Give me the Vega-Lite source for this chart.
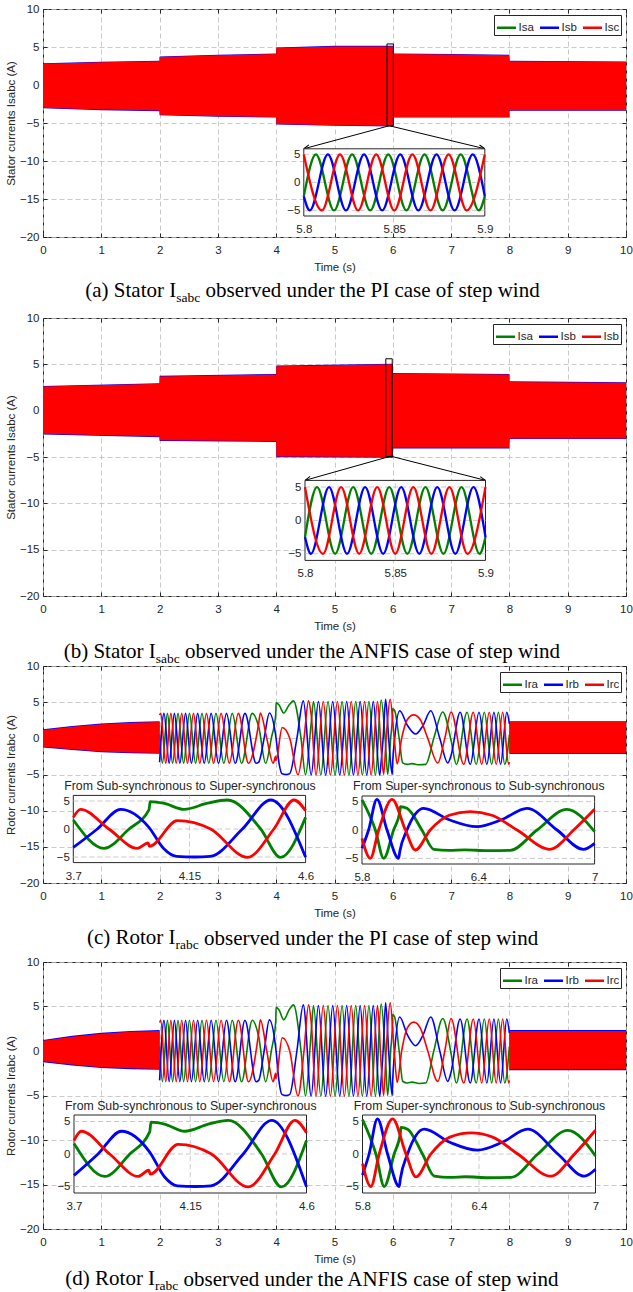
{
"$schema": "https://vega.github.io/schema/vega-lite/v6.json",
"background": "white",
"padding": {"left": 5, "top": 2, "right": 0, "bottom": 0},
"spacing": -6,
"resolve": {"scale": {"color": "independent"}, "legend": {"color": "independent"}},
"config": {
 "view": {"stroke": "#262626", "strokeWidth": 1},
 "axis": {"labelFont": "Liberation Sans", "labelFontSize": 11.5, "labelColor": "#262626", "titleFont": "Liberation Sans", "titleFontSize": 11.5, "titleFontWeight": "normal", "titleColor": "#262626", "domain": false, "gridColor": "#bdbdbd", "gridDash": [5, 3], "gridWidth": 0.8, "tickColor": "#262626", "labelFlush": false},
 "legend": {"labelFont": "Liberation Sans", "labelFontSize": 11.5, "labelColor": "#262626", "title": null, "orient": "top-right", "direction": "horizontal", "symbolType": "stroke", "symbolSize": 361, "symbolStrokeWidth": 2.5, "padding": 1.5, "strokeColor": "#262626", "fillColor": "white", "offset": 5.5, "columnPadding": 0, "labelOffset": 1},
 "title": {"font": "Liberation Serif", "fontWeight": "normal", "color": "#000000", "orient": "bottom", "anchor": "start", "frame": "group"}
},
"datasets": {
 "bandA": [
  {"s":"Isb","t":0,"hi":2.87,"lo":-3.07},{"s":"Isb","t":1,"hi":3.05,"lo":-3.31},{"s":"Isb","t":1.999,"hi":3.18,"lo":-3.44},{"s":"Isb","t":2.001,"hi":3.75,"lo":-3.97},{"s":"Isb","t":3,"hi":3.97,"lo":-4.18},{"s":"Isb","t":3.999,"hi":4.14,"lo":-4.27},{"s":"Isb","t":4.001,"hi":4.93,"lo":-5.19},{"s":"Isb","t":5,"hi":5.15,"lo":-5.37},{"s":"Isb","t":5.999,"hi":5.15,"lo":-5.45},{"s":"Isb","t":6.001,"hi":4.14,"lo":-4.27},{"s":"Isb","t":7,"hi":4.07,"lo":-4.27},{"s":"Isb","t":7.999,"hi":3.97,"lo":-4.27},{"s":"Isb","t":8.001,"hi":3.18,"lo":-3.4},{"s":"Isb","t":10,"hi":3.09,"lo":-3.4},
  {"s":"Isc","t":0,"hi":2.8,"lo":-3.0},{"s":"Isc","t":1,"hi":2.98,"lo":-3.24},{"s":"Isc","t":1.999,"hi":3.11,"lo":-3.37},{"s":"Isc","t":2.001,"hi":3.68,"lo":-3.9},{"s":"Isc","t":3,"hi":3.9,"lo":-4.11},{"s":"Isc","t":3.999,"hi":4.07,"lo":-4.2},{"s":"Isc","t":4.001,"hi":4.86,"lo":-5.12},{"s":"Isc","t":5,"hi":5.08,"lo":-5.3},{"s":"Isc","t":5.999,"hi":5.08,"lo":-5.38},{"s":"Isc","t":6.001,"hi":4.07,"lo":-4.2},{"s":"Isc","t":7,"hi":4.0,"lo":-4.2},{"s":"Isc","t":7.999,"hi":3.9,"lo":-4.2},{"s":"Isc","t":8.001,"hi":3.11,"lo":-3.33},{"s":"Isc","t":10,"hi":3.02,"lo":-3.33}
 ],
 "bandB": [
  {"s":"Isb","t":0,"hi":2.67,"lo":-2.57},{"s":"Isb","t":1.999,"hi":2.97,"lo":-2.87},{"s":"Isb","t":2.001,"hi":3.77,"lo":-3.27},{"s":"Isb","t":3.999,"hi":3.97,"lo":-3.37},{"s":"Isb","t":4.001,"hi":4.87,"lo":-5.02},{"s":"Isb","t":5.999,"hi":5.07,"lo":-5.07},{"s":"Isb","t":6.001,"hi":4.07,"lo":-4.07},{"s":"Isb","t":7.999,"hi":3.97,"lo":-4.07},{"s":"Isb","t":8.001,"hi":3.17,"lo":-3.07},{"s":"Isb","t":10,"hi":3.07,"lo":-3.07},
  {"s":"Isc","t":0,"hi":2.6,"lo":-2.5},{"s":"Isc","t":1.999,"hi":2.9,"lo":-2.8},{"s":"Isc","t":2.001,"hi":3.7,"lo":-3.2},{"s":"Isc","t":3.999,"hi":3.9,"lo":-3.3},{"s":"Isc","t":4.001,"hi":4.8,"lo":-4.95},{"s":"Isc","t":5.999,"hi":5.0,"lo":-5.0},{"s":"Isc","t":6.001,"hi":4.0,"lo":-4.0},{"s":"Isc","t":7.999,"hi":3.9,"lo":-4.0},{"s":"Isc","t":8.001,"hi":3.1,"lo":-3.0},{"s":"Isc","t":10,"hi":3.0,"lo":-3.0}
 ],
 "annA": [
  {"k":"box","t1":5.9,"t2":6.01,"v1":-5.35,"v2":5.4},
  {"k":"arrow","t1":5.94,"v1":-5.36,"t2":4.473,"v2":-8.39},
  {"k":"arrow","t1":5.94,"v1":-5.36,"t2":7.578,"v2":-8.39}
 ],
 "annB": [
  {"k":"box","t1":5.88,"t2":5.99,"v1":-4.95,"v2":5.6},
  {"k":"arrow","t1":5.964,"v1":-4.91,"t2":4.494,"v2":-7.52},
  {"k":"arrow","t1":5.964,"v1":-4.91,"t2":7.59,"v2":-7.52}
 ],
 "sIns": [
  {"s":"Isa","t":5.8,"v":-2.5},{"s":"Isa","t":5.8067,"v":5},{"s":"Isa","t":5.8167,"v":-5},{"s":"Isa","t":5.8267,"v":5},{"s":"Isa","t":5.8367,"v":-5},{"s":"Isa","t":5.8467,"v":5},{"s":"Isa","t":5.8567,"v":-5},{"s":"Isa","t":5.8667,"v":5},{"s":"Isa","t":5.8767,"v":-5},{"s":"Isa","t":5.8867,"v":5},{"s":"Isa","t":5.8967,"v":-5},{"s":"Isa","t":5.9,"v":-2.5},
  {"s":"Isb","t":5.8,"v":-2.5},{"s":"Isb","t":5.8033,"v":-5},{"s":"Isb","t":5.8133,"v":5},{"s":"Isb","t":5.8233,"v":-5},{"s":"Isb","t":5.8333,"v":5},{"s":"Isb","t":5.8433,"v":-5},{"s":"Isb","t":5.8533,"v":5},{"s":"Isb","t":5.8633,"v":-5},{"s":"Isb","t":5.8733,"v":5},{"s":"Isb","t":5.8833,"v":-5},{"s":"Isb","t":5.8933,"v":5},{"s":"Isb","t":5.9,"v":-2.5},
  {"s":"Isc","t":5.8,"v":5},{"s":"Isc","t":5.81,"v":-5},{"s":"Isc","t":5.82,"v":5},{"s":"Isc","t":5.83,"v":-5},{"s":"Isc","t":5.84,"v":5},{"s":"Isc","t":5.85,"v":-5},{"s":"Isc","t":5.86,"v":5},{"s":"Isc","t":5.87,"v":-5},{"s":"Isc","t":5.88,"v":5},{"s":"Isc","t":5.89,"v":-5},{"s":"Isc","t":5.9,"v":5}
 ],
 "cband": [
  {"s":"Irb","g":"L","t":0,"hi":1.25,"lo":-1.26},{"s":"Irb","g":"L","t":0.5,"hi":1.7,"lo":-1.62},{"s":"Irb","g":"L","t":1,"hi":2.05,"lo":-1.92},{"s":"Irb","g":"L","t":1.5,"hi":2.25,"lo":-2.05},{"s":"Irb","g":"L","t":2,"hi":2.35,"lo":-2.12},
  {"s":"Irb","g":"R","t":8,"hi":2.35,"lo":-2.15},{"s":"Irb","g":"R","t":10,"hi":2.35,"lo":-2.15},
  {"s":"Irc","g":"L","t":0,"hi":1.15,"lo":-1.16},{"s":"Irc","g":"L","t":0.5,"hi":1.6,"lo":-1.52},{"s":"Irc","g":"L","t":1,"hi":1.95,"lo":-1.82},{"s":"Irc","g":"L","t":1.5,"hi":2.15,"lo":-1.95},{"s":"Irc","g":"L","t":2,"hi":2.25,"lo":-2.02},
  {"s":"Irc","g":"R","t":8,"hi":2.25,"lo":-2.05},{"s":"Irc","g":"R","t":10,"hi":2.25,"lo":-2.05}
 ],
 "rL": [
  {"s":"Ira","t":2,"v":0.5},{"s":"Ira","t":2.048,"v":-3.45},{"s":"Ira","t":2.134,"v":3.45},{"s":"Ira","t":2.223,"v":-3.45},{"s":"Ira","t":2.316,"v":3.45},{"s":"Ira","t":2.412,"v":-3.45},{"s":"Ira","t":2.512,"v":3.45},{"s":"Ira","t":2.617,"v":-3.45},{"s":"Ira","t":2.727,"v":3.45},{"s":"Ira","t":2.843,"v":-3.45},{"s":"Ira","t":2.967,"v":3.45},{"s":"Ira","t":3.101,"v":-3.45},{"s":"Ira","t":3.246,"v":3.45},{"s":"Ira","t":3.406,"v":-3.45},{"s":"Ira","t":3.589,"v":3.45},
  {"s":"Ira","t":3.7,"v":1.6},{"s":"Ira","t":3.819,"v":-3.45},{"s":"Ira","t":3.916,"v":0},{"s":"Ira","t":3.993,"v":3.4},{"s":"Ira","t":3.998,"v":4.9},{"s":"Ira","t":4.05,"v":4.6},{"s":"Ira","t":4.129,"v":3.5},{"s":"Ira","t":4.22,"v":4.6},{"s":"Ira","t":4.297,"v":5.18},{"s":"Ira","t":4.426,"v":0},{"s":"Ira","t":4.503,"v":-5.06},{"s":"Ira","t":4.6,"v":2.08},
  {"s":"Ira","t":4.64,"v":5.1},{"s":"Ira","t":4.766,"v":-5.1},{"s":"Ira","t":4.889,"v":5.1},{"s":"Ira","t":5.01,"v":-5.1},{"s":"Ira","t":5.13,"v":5.1},{"s":"Ira","t":5.248,"v":-5.1},{"s":"Ira","t":5.364,"v":5.1},{"s":"Ira","t":5.478,"v":-5.1},{"s":"Ira","t":5.591,"v":5.1},{"s":"Ira","t":5.702,"v":-5.1},
  {"s":"Ira","t":5.8,"v":5.3},{"s":"Ira","t":5.869,"v":0},{"s":"Ira","t":5.912,"v":-5},{"s":"Ira","t":5.963,"v":0},{"s":"Ira","t":5.995,"v":3.2},{"s":"Ira","t":5.998,"v":4.1},{"s":"Ira","t":6.032,"v":3.82},{"s":"Ira","t":6.109,"v":0},{"s":"Ira","t":6.17,"v":-3.4},{"s":"Ira","t":6.25,"v":-3.6},{"s":"Ira","t":6.33,"v":-3.5},{"s":"Ira","t":6.45,"v":-3.65},{"s":"Ira","t":6.565,"v":-3.6},{"s":"Ira","t":6.703,"v":0},{"s":"Ira","t":6.857,"v":3.65},{"s":"Ira","t":7,"v":-0.3},
  {"s":"Ira","t":7.09,"v":-3.6},{"s":"Ira","t":7.274,"v":3.6},{"s":"Ira","t":7.431,"v":-3.6},{"s":"Ira","t":7.57,"v":3.6},{"s":"Ira","t":7.696,"v":-3.6},{"s":"Ira","t":7.812,"v":3.6},{"s":"Ira","t":7.92,"v":-3.6},{"s":"Ira","t":8,"v":0.5},
  {"s":"Irb","t":2,"v":-3.3},{"s":"Irb","t":2.076,"v":3.45},{"s":"Irb","t":2.164,"v":-3.45},{"s":"Irb","t":2.254,"v":3.45},{"s":"Irb","t":2.347,"v":-3.45},{"s":"Irb","t":2.445,"v":3.45},{"s":"Irb","t":2.546,"v":-3.45},{"s":"Irb","t":2.653,"v":3.45},{"s":"Irb","t":2.765,"v":-3.45},{"s":"Irb","t":2.884,"v":3.45},{"s":"Irb","t":3.011,"v":-3.45},{"s":"Irb","t":3.147,"v":3.45},{"s":"Irb","t":3.297,"v":-3.45},{"s":"Irb","t":3.464,"v":3.45},{"s":"Irb","t":3.656,"v":-3.45},
  {"s":"Irb","t":3.7,"v":-3.3},{"s":"Irb","t":3.793,"v":0},{"s":"Irb","t":3.883,"v":3.5},{"s":"Irb","t":3.993,"v":0.3},{"s":"Irb","t":4.05,"v":-3.5},{"s":"Irb","t":4.1,"v":-4.9},{"s":"Irb","t":4.17,"v":-5.0},{"s":"Irb","t":4.23,"v":-4.9},{"s":"Irb","t":4.355,"v":0},{"s":"Irb","t":4.465,"v":5.18},{"s":"Irb","t":4.6,"v":-5.06},
  {"s":"Irb","t":4.724,"v":5.1},{"s":"Irb","t":4.848,"v":-5.1},{"s":"Irb","t":4.97,"v":5.1},{"s":"Irb","t":5.09,"v":-5.1},{"s":"Irb","t":5.209,"v":5.1},{"s":"Irb","t":5.325,"v":-5.1},{"s":"Irb","t":5.44,"v":5.1},{"s":"Irb","t":5.553,"v":-5.1},{"s":"Irb","t":5.665,"v":5.1},{"s":"Irb","t":5.775,"v":-5.1},
  {"s":"Irb","t":5.8,"v":-3.24},{"s":"Irb","t":5.834,"v":0},{"s":"Irb","t":5.877,"v":5.41},{"s":"Irb","t":5.929,"v":0},{"s":"Irb","t":5.989,"v":-5},{"s":"Irb","t":5.995,"v":-3.8},{"s":"Irb","t":6.032,"v":0},{"s":"Irb","t":6.118,"v":3.82},{"s":"Irb","t":6.25,"v":1.8},{"s":"Irb","t":6.393,"v":0.59},{"s":"Irb","t":6.52,"v":1.8},{"s":"Irb","t":6.651,"v":3.82},{"s":"Irb","t":6.806,"v":0},{"s":"Irb","t":6.943,"v":-3.41},{"s":"Irb","t":7,"v":-2.35},
  {"s":"Irb","t":7.155,"v":3.6},{"s":"Irb","t":7.329,"v":-3.6},{"s":"Irb","t":7.479,"v":3.6},{"s":"Irb","t":7.613,"v":-3.6},{"s":"Irb","t":7.735,"v":3.6},{"s":"Irb","t":7.849,"v":-3.6},{"s":"Irb","t":7.955,"v":3.6},{"s":"Irb","t":8,"v":2.0},
  {"s":"Irc","t":2,"v":3.2},{"s":"Irc","t":2.02,"v":3.45},{"s":"Irc","t":2.105,"v":-3.45},{"s":"Irc","t":2.193,"v":3.45},{"s":"Irc","t":2.285,"v":-3.45},{"s":"Irc","t":2.379,"v":3.45},{"s":"Irc","t":2.478,"v":-3.45},{"s":"Irc","t":2.581,"v":3.45},{"s":"Irc","t":2.689,"v":-3.45},{"s":"Irc","t":2.804,"v":3.45},{"s":"Irc","t":2.925,"v":-3.45},{"s":"Irc","t":3.055,"v":3.45},{"s":"Irc","t":3.196,"v":-3.45},{"s":"Irc","t":3.351,"v":3.45},{"s":"Irc","t":3.525,"v":-3.45},
  {"s":"Irc","t":3.7,"v":2.08},{"s":"Irc","t":3.728,"v":3.5},{"s":"Irc","t":3.838,"v":0},{"s":"Irc","t":3.948,"v":-3.45},{"s":"Irc","t":3.99,"v":-2.5},{"s":"Irc","t":3.995,"v":-3.1},{"s":"Irc","t":4.103,"v":1.49},{"s":"Irc","t":4.232,"v":0},{"s":"Irc","t":4.374,"v":-5.06},{"s":"Irc","t":4.477,"v":0},{"s":"Irc","t":4.555,"v":5.18},{"s":"Irc","t":4.6,"v":3.27},
  {"s":"Irc","t":4.682,"v":-5.1},{"s":"Irc","t":4.807,"v":5.1},{"s":"Irc","t":4.93,"v":-5.1},{"s":"Irc","t":5.05,"v":5.1},{"s":"Irc","t":5.169,"v":-5.1},{"s":"Irc","t":5.287,"v":5.1},{"s":"Irc","t":5.402,"v":-5.1},{"s":"Irc","t":5.516,"v":5.1},{"s":"Irc","t":5.628,"v":-5.1},{"s":"Irc","t":5.738,"v":5.1},
  {"s":"Irc","t":5.8,"v":-1.47},{"s":"Irc","t":5.843,"v":-5},{"s":"Irc","t":5.886,"v":0},{"s":"Irc","t":5.955,"v":5.41},{"s":"Irc","t":6.024,"v":0},{"s":"Irc","t":6.075,"v":-3.53},{"s":"Irc","t":6.152,"v":0},{"s":"Irc","t":6.25,"v":2.6},{"s":"Irc","t":6.359,"v":3.24},{"s":"Irc","t":6.47,"v":2.6},{"s":"Irc","t":6.6,"v":0},{"s":"Irc","t":6.771,"v":-3.41},{"s":"Irc","t":6.892,"v":0},{"s":"Irc","t":7,"v":3.65},
  {"s":"Irc","t":7.217,"v":-3.6},{"s":"Irc","t":7.381,"v":3.6},{"s":"Irc","t":7.525,"v":-3.6},{"s":"Irc","t":7.655,"v":3.6},{"s":"Irc","t":7.774,"v":-3.6},{"s":"Irc","t":7.885,"v":3.6},{"s":"Irc","t":7.988,"v":-3.6},{"s":"Irc","t":8,"v":-3.3}
 ]
},
"vconcat": [
 {"title": {"text": "observed under the PI case of step wind", "fontSize": 21, "dx": 162.5, "dy": -24, "offset": 0},
  "resolve": {"scale": {"color": "independent"}, "legend": {"color": "independent"}},
  "vconcat": [{"title": {"text": "sabc", "fontSize": 13.5, "dx": 133.3, "dy": -10.5, "offset": 0},
   "resolve": {"scale": {"color": "independent"}, "legend": {"color": "independent"}},
   "vconcat": [{
    "width": 583, "height": 228,
    "title": {"text": "(a) Stator I", "fontSize": 21, "dx": 42.3, "offset": 7},
    "resolve": {"scale": {"x": "independent", "y": "independent"}, "axis": {"x": "independent", "y": "independent"}},
    "layer": [
     {"data": {"name": "bandA"}, "transform": [{"filter": "datum.s == 'Isb'"}], "mark": {"type": "area", "color": "#0000ff"},
      "encoding": {
       "x": {"field": "t", "type": "quantitative", "scale": {"domain": [0, 10], "nice": false, "zero": false}, "axis": {"orient": "bottom", "values": [0,1,2,3,4,5,6,7,8,9,10], "title": "Time (s)", "grid": true, "tickSize": -4, "labelPadding": 11.5, "titlePadding": 5}},
       "y": {"field": "hi", "type": "quantitative", "stack": null, "scale": {"domain": [-20, 10], "nice": false, "zero": false}, "axis": {"orient": "left", "values": [-20,-15,-10,-5,0,5,10], "title": "Stator currents Isabc (A)", "grid": true, "tickSize": -4, "labelPadding": 8, "titlePadding": 2.5}},
       "y2": {"field": "lo"}
      }},
     {"data": {"name": "bandA"}, "transform": [{"filter": "datum.s == 'Isc'"}], "mark": {"type": "area", "color": "#ff0000"},
      "encoding": {
       "x": {"field": "t", "type": "quantitative", "scale": {"domain": [0, 10], "nice": false, "zero": false}, "axis": {"orient": "top", "values": [0,1,2,3,4,5,6,7,8,9,10], "labels": false, "ticks": true, "tickSize": -4, "domain": false, "grid": false, "title": null, "minExtent": 0}},
       "y": {"field": "hi", "type": "quantitative", "stack": null, "scale": {"domain": [-20, 10], "nice": false, "zero": false}, "axis": {"orient": "right", "values": [-20,-15,-10,-5,0,5,10], "labels": false, "ticks": true, "tickSize": -4, "domain": false, "grid": false, "title": null, "minExtent": 0}},
       "y2": {"field": "lo"}
      }},
     {"data": {"name": "annA"}, "transform": [{"filter": "datum.k == 'box'"}], "mark": {"type": "rect", "filled": false, "color": "#000000", "strokeWidth": 1},
      "encoding": {"x": {"field": "t1", "type": "quantitative", "scale": {"domain": [0, 10], "nice": false, "zero": false}, "axis": null}, "x2": {"field": "t2"}, "y": {"field": "v1", "type": "quantitative", "scale": {"domain": [-20, 10], "nice": false, "zero": false}, "axis": null}, "y2": {"field": "v2"}}},
     {"data": {"name": "annA"}, "transform": [{"filter": "datum.k == 'arrow'"}], "mark": {"type": "rule", "color": "#000000", "strokeWidth": 1},
      "encoding": {"x": {"field": "t1", "type": "quantitative", "scale": {"domain": [0, 10], "nice": false, "zero": false}, "axis": null}, "x2": {"field": "t2"}, "y": {"field": "v1", "type": "quantitative", "scale": {"domain": [-20, 10], "nice": false, "zero": false}, "axis": null}, "y2": {"field": "v2"}}},
     {"data": {"name": "annA"}, "transform": [{"filter": "datum.k == 'arrow' && datum.t2 < 5"}], "mark": {"type": "point", "shape": "M0,0L2,-0.8M0,0L2,0.8", "size": 36, "filled": false, "color": "#000000", "strokeWidth": 1, "opacity": 1, "angle": 344},
      "encoding": {"x": {"field": "t2", "type": "quantitative", "scale": {"domain": [0, 10], "nice": false, "zero": false}, "axis": null}, "y": {"field": "v2", "type": "quantitative", "scale": {"domain": [-20, 10], "nice": false, "zero": false}, "axis": null}}},
     {"data": {"name": "annA"}, "transform": [{"filter": "datum.k == 'arrow' && datum.t2 > 5"}], "mark": {"type": "point", "shape": "M0,0L2,-0.8M0,0L2,0.8", "size": 36, "filled": false, "color": "#000000", "strokeWidth": 1, "opacity": 1, "angle": 194},
      "encoding": {"x": {"field": "t2", "type": "quantitative", "scale": {"domain": [0, 10], "nice": false, "zero": false}, "axis": null}, "y": {"field": "v2", "type": "quantitative", "scale": {"domain": [-20, 10], "nice": false, "zero": false}, "axis": null}}},
     {"data": {"values": [{}]}, "mark": {"type": "rect", "fill": "#ffffff", "stroke": "#262626", "strokeWidth": 1},
      "encoding": {
       "x": {"datum": 5.8, "type": "quantitative", "scale": {"domain": [5.8, 5.9], "range": [260.8, 441.8], "nice": false, "zero": false}, "axis": {"orient": "bottom", "offset": -21, "values": [5.8, 5.85, 5.9], "format": ".3~g", "grid": false, "ticks": false, "labelPadding": 7.5, "title": null}},
       "x2": {"datum": 5.9},
       "y": {"datum": -6, "type": "quantitative", "scale": {"domain": [-6, 6], "range": [207, 139.8], "nice": false, "zero": false}, "axis": {"orient": "left", "offset": -260.8, "values": [-5, 0, 5], "grid": false, "ticks": false, "labelPadding": 4, "title": null}},
       "y2": {"datum": 6}
      }},
     {"data": {"values": [{"g": -5}, {"g": 0}, {"g": 5}]}, "mark": {"type": "rule", "color": "#bdbdbd", "strokeDash": [5, 3], "strokeWidth": 0.8},
      "encoding": {"y": {"field": "g", "type": "quantitative", "scale": {"domain": [-6, 6], "range": [207, 139.8], "nice": false, "zero": false}, "axis": null}, "x": {"datum": 5.8, "type": "quantitative", "scale": {"domain": [5.8, 5.9], "range": [260.8, 441.8], "nice": false, "zero": false}, "axis": null}, "x2": {"datum": 5.9}}},
     {"data": {"values": [{"g": 5.85}]}, "mark": {"type": "rule", "color": "#bdbdbd", "strokeDash": [5, 3], "strokeWidth": 0.8},
      "encoding": {"x": {"field": "g", "type": "quantitative", "scale": {"domain": [5.8, 5.9], "range": [260.8, 441.8], "nice": false, "zero": false}, "axis": null}, "y": {"datum": -6, "type": "quantitative", "scale": {"domain": [-6, 6], "range": [207, 139.8], "nice": false, "zero": false}, "axis": null}, "y2": {"datum": 6}}},
     {"data": {"name": "sIns"}, "mark": {"type": "line", "strokeWidth": 2.3, "interpolate": "monotone"},
      "encoding": {"x": {"field": "t", "type": "quantitative", "scale": {"domain": [5.8, 5.9], "range": [260.8, 441.8], "nice": false, "zero": false}, "axis": null}, "y": {"field": "v", "type": "quantitative", "scale": {"domain": [-6, 6], "range": [207, 139.8], "nice": false, "zero": false}, "axis": null},
       "color": {"field": "s", "type": "nominal", "scale": {"domain": ["Isa","Isb","Isc"], "range": ["#008000","#0000ff","#ff0000"]}, "legend": {"title": null}}}}
    ]
   }]
  }]
 },
 {"title": {"text": "observed under the ANFIS case of step wind", "fontSize": 21, "dx": 142, "dy": -24, "offset": 0},
  "resolve": {"scale": {"color": "independent"}, "legend": {"color": "independent"}},
  "vconcat": [{"title": {"text": "sabc", "fontSize": 13.5, "dx": 112.8, "dy": -10.5, "offset": 0},
   "resolve": {"scale": {"color": "independent"}, "legend": {"color": "independent"}},
   "vconcat": [{
    "width": 583, "height": 278,
    "title": {"text": "(b) Stator I", "fontSize": 21, "dx": 20.7, "offset": 9},
    "resolve": {"scale": {"x": "independent", "y": "independent"}, "axis": {"x": "independent", "y": "independent"}},
    "layer": [
     {"data": {"name": "bandB"}, "transform": [{"filter": "datum.s == 'Isb'"}], "mark": {"type": "area", "color": "#0000ff"},
      "encoding": {
       "x": {"field": "t", "type": "quantitative", "scale": {"domain": [0, 10], "nice": false, "zero": false}, "axis": {"orient": "bottom", "values": [0,1,2,3,4,5,6,7,8,9,10], "title": "Time (s)", "grid": true, "tickSize": -4, "labelPadding": 11.5, "titlePadding": 5}},
       "y": {"field": "hi", "type": "quantitative", "stack": null, "scale": {"domain": [-20, 10], "nice": false, "zero": false}, "axis": {"orient": "left", "values": [-20,-15,-10,-5,0,5,10], "title": "Stator currents Isabc (A)", "grid": true, "tickSize": -4, "labelPadding": 8, "titlePadding": 2.5}},
       "y2": {"field": "lo"}
      }},
     {"data": {"name": "bandB"}, "transform": [{"filter": "datum.s == 'Isc'"}], "mark": {"type": "area", "color": "#ff0000"},
      "encoding": {
       "x": {"field": "t", "type": "quantitative", "scale": {"domain": [0, 10], "nice": false, "zero": false}, "axis": {"orient": "top", "values": [0,1,2,3,4,5,6,7,8,9,10], "labels": false, "ticks": true, "tickSize": -4, "domain": false, "grid": false, "title": null, "minExtent": 19}},
       "y": {"field": "hi", "type": "quantitative", "stack": null, "scale": {"domain": [-20, 10], "nice": false, "zero": false}, "axis": {"orient": "right", "values": [-20,-15,-10,-5,0,5,10], "labels": false, "ticks": true, "tickSize": -4, "domain": false, "grid": false, "title": null, "minExtent": 0}},
       "y2": {"field": "lo"}
      }},
     {"data": {"name": "annB"}, "transform": [{"filter": "datum.k == 'box'"}], "mark": {"type": "rect", "filled": false, "color": "#000000", "strokeWidth": 1},
      "encoding": {"x": {"field": "t1", "type": "quantitative", "scale": {"domain": [0, 10], "nice": false, "zero": false}, "axis": null}, "x2": {"field": "t2"}, "y": {"field": "v1", "type": "quantitative", "scale": {"domain": [-20, 10], "nice": false, "zero": false}, "axis": null}, "y2": {"field": "v2"}}},
     {"data": {"name": "annB"}, "transform": [{"filter": "datum.k == 'arrow'"}], "mark": {"type": "rule", "color": "#000000", "strokeWidth": 1},
      "encoding": {"x": {"field": "t1", "type": "quantitative", "scale": {"domain": [0, 10], "nice": false, "zero": false}, "axis": null}, "x2": {"field": "t2"}, "y": {"field": "v1", "type": "quantitative", "scale": {"domain": [-20, 10], "nice": false, "zero": false}, "axis": null}, "y2": {"field": "v2"}}},
     {"data": {"name": "annB"}, "transform": [{"filter": "datum.k == 'arrow' && datum.t2 < 5"}], "mark": {"type": "point", "shape": "M0,0L2,-0.8M0,0L2,0.8", "size": 36, "filled": false, "color": "#000000", "strokeWidth": 1, "opacity": 1, "angle": 344},
      "encoding": {"x": {"field": "t2", "type": "quantitative", "scale": {"domain": [0, 10], "nice": false, "zero": false}, "axis": null}, "y": {"field": "v2", "type": "quantitative", "scale": {"domain": [-20, 10], "nice": false, "zero": false}, "axis": null}}},
     {"data": {"name": "annB"}, "transform": [{"filter": "datum.k == 'arrow' && datum.t2 > 5"}], "mark": {"type": "point", "shape": "M0,0L2,-0.8M0,0L2,0.8", "size": 36, "filled": false, "color": "#000000", "strokeWidth": 1, "opacity": 1, "angle": 194},
      "encoding": {"x": {"field": "t2", "type": "quantitative", "scale": {"domain": [0, 10], "nice": false, "zero": false}, "axis": null}, "y": {"field": "v2", "type": "quantitative", "scale": {"domain": [-20, 10], "nice": false, "zero": false}, "axis": null}}},
     {"data": {"values": [{}]}, "mark": {"type": "rect", "fill": "#ffffff", "stroke": "#262626", "strokeWidth": 1},
      "encoding": {
       "x": {"datum": 5.8, "type": "quantitative", "scale": {"domain": [5.8, 5.9], "range": [262, 442.5], "nice": false, "zero": false}, "axis": {"orient": "bottom", "offset": -35.6, "values": [5.8, 5.85, 5.9], "format": ".3~g", "grid": false, "ticks": false, "labelPadding": 7.5, "title": null}},
       "x2": {"datum": 5.9},
       "y": {"datum": -6, "type": "quantitative", "scale": {"domain": [-6, 6], "range": [242.4, 162.4], "nice": false, "zero": false}, "axis": {"orient": "left", "offset": -262, "values": [-5, 0, 5], "grid": false, "ticks": false, "labelPadding": 4, "title": null}},
       "y2": {"datum": 6}
      }},
     {"data": {"values": [{"g": -5}, {"g": 0}, {"g": 5}]}, "mark": {"type": "rule", "color": "#bdbdbd", "strokeDash": [5, 3], "strokeWidth": 0.8},
      "encoding": {"y": {"field": "g", "type": "quantitative", "scale": {"domain": [-6, 6], "range": [242.4, 162.4], "nice": false, "zero": false}, "axis": null}, "x": {"datum": 5.8, "type": "quantitative", "scale": {"domain": [5.8, 5.9], "range": [262, 442.5], "nice": false, "zero": false}, "axis": null}, "x2": {"datum": 5.9}}},
     {"data": {"values": [{"g": 5.85}]}, "mark": {"type": "rule", "color": "#bdbdbd", "strokeDash": [5, 3], "strokeWidth": 0.8},
      "encoding": {"x": {"field": "g", "type": "quantitative", "scale": {"domain": [5.8, 5.9], "range": [262, 442.5], "nice": false, "zero": false}, "axis": null}, "y": {"datum": -6, "type": "quantitative", "scale": {"domain": [-6, 6], "range": [242.4, 162.4], "nice": false, "zero": false}, "axis": null}, "y2": {"datum": 6}}},
     {"data": {"name": "sIns"}, "mark": {"type": "line", "strokeWidth": 2.3, "interpolate": "monotone"},
      "encoding": {"x": {"field": "t", "type": "quantitative", "scale": {"domain": [5.8, 5.9], "range": [262, 442.5], "nice": false, "zero": false}, "axis": null}, "y": {"field": "v", "type": "quantitative", "scale": {"domain": [-6, 6], "range": [242.4, 162.4], "nice": false, "zero": false}, "axis": null},
       "color": {"field": "s", "type": "nominal", "scale": {"domain": ["Isa","Isb","Isc"], "range": ["#008000","#0000ff","#ff0000"]}, "legend": {"title": null, "labelExpr": "datum.label == 'Isc' ? 'Isb' : datum.label"}}}}
    ]
   }]
  }]
 },
 {"title": {"text": "observed under the PI case of step wind", "fontSize": 21, "dx": 161, "dy": -24, "offset": 0},
  "resolve": {"scale": {"color": "independent"}, "legend": {"color": "independent"}},
  "vconcat": [{"title": {"text": "rabc", "fontSize": 13.5, "dx": 132.5, "dy": -10.5, "offset": 0},
   "resolve": {"scale": {"color": "independent"}, "legend": {"color": "independent"}},
   "vconcat": [{
    "width": 583, "height": 217,
    "title": {"text": "(c) Rotor I", "fontSize": 21, "dx": 43.9, "offset": 8.7},
    "resolve": {"scale": {"x": "independent", "y": "independent"}, "axis": {"x": "independent", "y": "independent"}},
    "layer": [
     {"data": {"name": "cband"}, "transform": [{"filter": "datum.s == 'Irb'"}], "mark": {"type": "area", "color": "#0000ff"},
      "encoding": {
       "x": {"field": "t", "type": "quantitative", "scale": {"domain": [0, 10], "nice": false, "zero": false}, "axis": {"orient": "bottom", "values": [0,1,2,3,4,5,6,7,8,9,10], "title": "Time (s)", "grid": true, "tickSize": -4, "labelPadding": 11.5, "titlePadding": 5}},
       "y": {"field": "hi", "type": "quantitative", "stack": null, "scale": {"domain": [-20, 10], "nice": false, "zero": false}, "axis": {"orient": "left", "values": [-20,-15,-10,-5,0,5,10], "title": "Rotor currents Irabc (A)", "grid": true, "tickSize": -4, "labelPadding": 8, "titlePadding": 2.5}},
       "y2": {"field": "lo"},
       "detail": {"field": "g"}
      }},
     {"data": {"name": "cband"}, "transform": [{"filter": "datum.s == 'Irc'"}], "mark": {"type": "area", "color": "#ff0000"},
      "encoding": {
       "x": {"field": "t", "type": "quantitative", "scale": {"domain": [0, 10], "nice": false, "zero": false}, "axis": {"orient": "top", "values": [0,1,2,3,4,5,6,7,8,9,10], "labels": false, "ticks": true, "tickSize": -4, "domain": false, "grid": false, "title": null, "minExtent": 0}},
       "y": {"field": "hi", "type": "quantitative", "stack": null, "scale": {"domain": [-20, 10], "nice": false, "zero": false}, "axis": {"orient": "right", "values": [-20,-15,-10,-5,0,5,10], "labels": false, "ticks": true, "tickSize": -4, "domain": false, "grid": false, "title": null, "minExtent": 0}},
       "y2": {"field": "lo"},
       "detail": {"field": "g"}
      }},
     {"data": {"name": "rL"}, "mark": {"type": "line", "strokeWidth": 1.6, "interpolate": "monotone"},
      "encoding": {"x": {"field": "t", "type": "quantitative", "scale": {"domain": [0, 10], "nice": false, "zero": false}, "axis": null}, "y": {"field": "v", "type": "quantitative", "scale": {"domain": [-20, 10], "nice": false, "zero": false}, "axis": null},
       "color": {"field": "s", "type": "nominal", "scale": {"domain": ["Ira","Irb","Irc"], "range": ["#008000","#0000ff","#ff0000"]}}}},
     {"data": {"values": [{}]}, "mark": {"type": "rect", "fill": "#ffffff", "stroke": "#262626", "strokeWidth": 1},
      "encoding": {
       "x": {"datum": 3.7, "type": "quantitative", "scale": {"domain": [3.7, 4.6], "range": [30.3, 262.6], "nice": false, "zero": false}, "axis": {"orient": "bottom", "offset": -20.4, "values": [3.7, 4.15, 4.6], "format": ".3~g", "grid": false, "ticks": false, "labelPadding": 7.5, "title": "From Sub-synchronous to Super-synchronous", "titleX": 146.5, "titleY": -77.6, "titleBaseline": "middle", "titleAlign": "center", "titleFontSize": 12.3}},
       "x2": {"datum": 4.6},
       "y": {"datum": -6, "type": "quantitative", "scale": {"domain": [-6, 6], "range": [196.6, 129.4], "nice": false, "zero": false}, "axis": {"orient": "left", "offset": -30.3, "values": [-5, 0, 5], "grid": false, "ticks": false, "labelPadding": 4, "title": null}},
       "y2": {"datum": 6}
      }},
     {"data": {"values": [{"g": -5}, {"g": 0}, {"g": 5}]}, "mark": {"type": "rule", "color": "#bdbdbd", "strokeDash": [5, 3], "strokeWidth": 0.8},
      "encoding": {"y": {"field": "g", "type": "quantitative", "scale": {"domain": [-6, 6], "range": [196.6, 129.4], "nice": false, "zero": false}, "axis": null}, "x": {"datum": 3.7, "type": "quantitative", "scale": {"domain": [3.7, 4.6], "range": [30.3, 262.6], "nice": false, "zero": false}, "axis": null}, "x2": {"datum": 4.6}}},
     {"data": {"values": [{"g": 4.15}]}, "mark": {"type": "rule", "color": "#bdbdbd", "strokeDash": [5, 3], "strokeWidth": 0.8},
      "encoding": {"x": {"field": "g", "type": "quantitative", "scale": {"domain": [3.7, 4.6], "range": [30.3, 262.6], "nice": false, "zero": false}, "axis": null}, "y": {"datum": -6, "type": "quantitative", "scale": {"domain": [-6, 6], "range": [196.6, 129.4], "nice": false, "zero": false}, "axis": null}, "y2": {"datum": 6}}},
     {"data": {"name": "rL"}, "transform": [{"filter": {"field": "t", "range": [3.7, 4.6]}}], "mark": {"type": "line", "strokeWidth": 2.8, "interpolate": "monotone"},
      "encoding": {"x": {"field": "t", "type": "quantitative", "scale": {"domain": [3.7, 4.6], "range": [30.3, 262.6], "nice": false, "zero": false}, "axis": null}, "y": {"field": "v", "type": "quantitative", "scale": {"domain": [-6, 6], "range": [196.6, 129.4], "nice": false, "zero": false}, "axis": null},
       "color": {"field": "s", "type": "nominal", "scale": {"domain": ["Ira","Irb","Irc"], "range": ["#008000","#0000ff","#ff0000"]}, "legend": {"title": null}}}},
     {"data": {"values": [{}]}, "mark": {"type": "rect", "fill": "#ffffff", "stroke": "#262626", "strokeWidth": 1},
      "encoding": {
       "x": {"datum": 5.8, "type": "quantitative", "scale": {"domain": [5.8, 7], "range": [319, 551.6], "nice": false, "zero": false}, "axis": {"orient": "bottom", "offset": -19, "values": [5.8, 6.4, 7], "format": ".3~g", "grid": false, "ticks": false, "labelPadding": 7.5, "title": "From Super-synchronous to Sub-synchronous", "titleX": 435.3, "titleY": -79, "titleBaseline": "middle", "titleAlign": "center", "titleFontSize": 12.3}},
       "x2": {"datum": 7},
       "y": {"datum": -6, "type": "quantitative", "scale": {"domain": [-6, 6], "range": [198, 130], "nice": false, "zero": false}, "axis": {"orient": "left", "offset": -319, "values": [-5, 0, 5], "grid": false, "ticks": false, "labelPadding": 4, "title": null}},
       "y2": {"datum": 6}
      }},
     {"data": {"values": [{"g": -5}, {"g": 0}, {"g": 5}]}, "mark": {"type": "rule", "color": "#bdbdbd", "strokeDash": [5, 3], "strokeWidth": 0.8},
      "encoding": {"y": {"field": "g", "type": "quantitative", "scale": {"domain": [-6, 6], "range": [198, 130], "nice": false, "zero": false}, "axis": null}, "x": {"datum": 5.8, "type": "quantitative", "scale": {"domain": [5.8, 7], "range": [319, 551.6], "nice": false, "zero": false}, "axis": null}, "x2": {"datum": 7}}},
     {"data": {"values": [{"g": 6.4}]}, "mark": {"type": "rule", "color": "#bdbdbd", "strokeDash": [5, 3], "strokeWidth": 0.8},
      "encoding": {"x": {"field": "g", "type": "quantitative", "scale": {"domain": [5.8, 7], "range": [319, 551.6], "nice": false, "zero": false}, "axis": null}, "y": {"datum": -6, "type": "quantitative", "scale": {"domain": [-6, 6], "range": [198, 130], "nice": false, "zero": false}, "axis": null}, "y2": {"datum": 6}}},
     {"data": {"name": "rL"}, "transform": [{"filter": {"field": "t", "range": [5.8, 7]}}], "mark": {"type": "line", "strokeWidth": 2.8, "interpolate": "monotone"},
      "encoding": {"x": {"field": "t", "type": "quantitative", "scale": {"domain": [5.8, 7], "range": [319, 551.6], "nice": false, "zero": false}, "axis": null}, "y": {"field": "v", "type": "quantitative", "scale": {"domain": [-6, 6], "range": [198, 130], "nice": false, "zero": false}, "axis": null},
       "color": {"field": "s", "type": "nominal", "scale": {"domain": ["Ira","Irb","Irc"], "range": ["#008000","#0000ff","#ff0000"]}}}}
    ]
   }]
  }]
 },
 {"title": {"text": "observed under the ANFIS case of step wind", "fontSize": 21, "dx": 140.5, "dy": -24, "offset": 0},
  "resolve": {"scale": {"color": "independent"}, "legend": {"color": "independent"}},
  "vconcat": [{"title": {"text": "rabc", "fontSize": 13.5, "dx": 112.1, "dy": -10.5, "offset": 0},
   "resolve": {"scale": {"color": "independent"}, "legend": {"color": "independent"}},
   "vconcat": [{
    "width": 583, "height": 267,
    "title": {"text": "(d) Rotor I", "fontSize": 21, "dx": 22.3, "offset": 3.5},
    "resolve": {"scale": {"x": "independent", "y": "independent"}, "axis": {"x": "independent", "y": "independent"}},
    "layer": [
     {"data": {"name": "cband"}, "transform": [{"filter": "datum.s == 'Irb'"}], "mark": {"type": "area", "color": "#0000ff"},
      "encoding": {
       "x": {"field": "t", "type": "quantitative", "scale": {"domain": [0, 10], "nice": false, "zero": false}, "axis": {"orient": "bottom", "values": [0,1,2,3,4,5,6,7,8,9,10], "title": "Time (s)", "grid": true, "tickSize": -4, "labelPadding": 11.5, "titlePadding": 5}},
       "y": {"field": "hi", "type": "quantitative", "stack": null, "scale": {"domain": [-20, 10], "nice": false, "zero": false}, "axis": {"orient": "left", "values": [-20,-15,-10,-5,0,5,10], "title": "Rotor currents Irabc (A)", "grid": true, "tickSize": -4, "labelPadding": 8, "titlePadding": 2.5}},
       "y2": {"field": "lo"},
       "detail": {"field": "g"}
      }},
     {"data": {"name": "cband"}, "transform": [{"filter": "datum.s == 'Irc'"}], "mark": {"type": "area", "color": "#ff0000"},
      "encoding": {
       "x": {"field": "t", "type": "quantitative", "scale": {"domain": [0, 10], "nice": false, "zero": false}, "axis": {"orient": "top", "values": [0,1,2,3,4,5,6,7,8,9,10], "labels": false, "ticks": true, "tickSize": -4, "domain": false, "grid": false, "title": null, "minExtent": 15}},
       "y": {"field": "hi", "type": "quantitative", "stack": null, "scale": {"domain": [-20, 10], "nice": false, "zero": false}, "axis": {"orient": "right", "values": [-20,-15,-10,-5,0,5,10], "labels": false, "ticks": true, "tickSize": -4, "domain": false, "grid": false, "title": null, "minExtent": 0}},
       "y2": {"field": "lo"},
       "detail": {"field": "g"}
      }},
     {"data": {"name": "rL"}, "mark": {"type": "line", "strokeWidth": 1.6, "interpolate": "monotone"},
      "encoding": {"x": {"field": "t", "type": "quantitative", "scale": {"domain": [0, 10], "nice": false, "zero": false}, "axis": null}, "y": {"field": "v", "type": "quantitative", "scale": {"domain": [-20, 10], "nice": false, "zero": false}, "axis": null},
       "color": {"field": "s", "type": "nominal", "scale": {"domain": ["Ira","Irb","Irc"], "range": ["#008000","#0000ff","#ff0000"]}}}},
     {"data": {"values": [{}]}, "mark": {"type": "rect", "fill": "#ffffff", "stroke": "#262626", "strokeWidth": 1},
      "encoding": {
       "x": {"datum": 3.7, "type": "quantitative", "scale": {"domain": [3.7, 4.6], "range": [31, 263.5], "nice": false, "zero": false}, "axis": {"orient": "bottom", "offset": -36, "values": [3.7, 4.15, 4.6], "format": ".3~g", "grid": false, "ticks": false, "labelPadding": 7.5, "title": "From Sub-synchronous to Super-synchronous", "titleX": 147.3, "titleY": -88, "titleBaseline": "middle", "titleAlign": "center", "titleFontSize": 12.3}},
       "x2": {"datum": 4.6},
       "y": {"datum": -6, "type": "quantitative", "scale": {"domain": [-6, 6], "range": [231, 153], "nice": false, "zero": false}, "axis": {"orient": "left", "offset": -31, "values": [-5, 0, 5], "grid": false, "ticks": false, "labelPadding": 4, "title": null}},
       "y2": {"datum": 6}
      }},
     {"data": {"values": [{"g": -5}, {"g": 0}, {"g": 5}]}, "mark": {"type": "rule", "color": "#bdbdbd", "strokeDash": [5, 3], "strokeWidth": 0.8},
      "encoding": {"y": {"field": "g", "type": "quantitative", "scale": {"domain": [-6, 6], "range": [231, 153], "nice": false, "zero": false}, "axis": null}, "x": {"datum": 3.7, "type": "quantitative", "scale": {"domain": [3.7, 4.6], "range": [31, 263.5], "nice": false, "zero": false}, "axis": null}, "x2": {"datum": 4.6}}},
     {"data": {"values": [{"g": 4.15}]}, "mark": {"type": "rule", "color": "#bdbdbd", "strokeDash": [5, 3], "strokeWidth": 0.8},
      "encoding": {"x": {"field": "g", "type": "quantitative", "scale": {"domain": [3.7, 4.6], "range": [31, 263.5], "nice": false, "zero": false}, "axis": null}, "y": {"datum": -6, "type": "quantitative", "scale": {"domain": [-6, 6], "range": [231, 153], "nice": false, "zero": false}, "axis": null}, "y2": {"datum": 6}}},
     {"data": {"name": "rL"}, "transform": [{"filter": {"field": "t", "range": [3.7, 4.6]}}], "mark": {"type": "line", "strokeWidth": 2.8, "interpolate": "monotone"},
      "encoding": {"x": {"field": "t", "type": "quantitative", "scale": {"domain": [3.7, 4.6], "range": [31, 263.5], "nice": false, "zero": false}, "axis": null}, "y": {"field": "v", "type": "quantitative", "scale": {"domain": [-6, 6], "range": [231, 153], "nice": false, "zero": false}, "axis": null},
       "color": {"field": "s", "type": "nominal", "scale": {"domain": ["Ira","Irb","Irc"], "range": ["#008000","#0000ff","#ff0000"]}, "legend": {"title": null}}}},
     {"data": {"values": [{}]}, "mark": {"type": "rect", "fill": "#ffffff", "stroke": "#262626", "strokeWidth": 1},
      "encoding": {
       "x": {"datum": 5.8, "type": "quantitative", "scale": {"domain": [5.8, 7], "range": [319.5, 552.5], "nice": false, "zero": false}, "axis": {"orient": "bottom", "offset": -36, "values": [5.8, 6.4, 7], "format": ".3~g", "grid": false, "ticks": false, "labelPadding": 7.5, "title": "From Super-synchronous to Sub-synchronous", "titleX": 436, "titleY": -88, "titleBaseline": "middle", "titleAlign": "center", "titleFontSize": 12.3}},
       "x2": {"datum": 7},
       "y": {"datum": -6, "type": "quantitative", "scale": {"domain": [-6, 6], "range": [231, 153], "nice": false, "zero": false}, "axis": {"orient": "left", "offset": -319.5, "values": [-5, 0, 5], "grid": false, "ticks": false, "labelPadding": 4, "title": null}},
       "y2": {"datum": 6}
      }},
     {"data": {"values": [{"g": -5}, {"g": 0}, {"g": 5}]}, "mark": {"type": "rule", "color": "#bdbdbd", "strokeDash": [5, 3], "strokeWidth": 0.8},
      "encoding": {"y": {"field": "g", "type": "quantitative", "scale": {"domain": [-6, 6], "range": [231, 153], "nice": false, "zero": false}, "axis": null}, "x": {"datum": 5.8, "type": "quantitative", "scale": {"domain": [5.8, 7], "range": [319.5, 552.5], "nice": false, "zero": false}, "axis": null}, "x2": {"datum": 7}}},
     {"data": {"values": [{"g": 6.4}]}, "mark": {"type": "rule", "color": "#bdbdbd", "strokeDash": [5, 3], "strokeWidth": 0.8},
      "encoding": {"x": {"field": "g", "type": "quantitative", "scale": {"domain": [5.8, 7], "range": [319.5, 552.5], "nice": false, "zero": false}, "axis": null}, "y": {"datum": -6, "type": "quantitative", "scale": {"domain": [-6, 6], "range": [231, 153], "nice": false, "zero": false}, "axis": null}, "y2": {"datum": 6}}},
     {"data": {"name": "rL"}, "transform": [{"filter": {"field": "t", "range": [5.8, 7]}}], "mark": {"type": "line", "strokeWidth": 2.8, "interpolate": "monotone"},
      "encoding": {"x": {"field": "t", "type": "quantitative", "scale": {"domain": [5.8, 7], "range": [319.5, 552.5], "nice": false, "zero": false}, "axis": null}, "y": {"field": "v", "type": "quantitative", "scale": {"domain": [-6, 6], "range": [231, 153], "nice": false, "zero": false}, "axis": null},
       "color": {"field": "s", "type": "nominal", "scale": {"domain": ["Ira","Irb","Irc"], "range": ["#008000","#0000ff","#ff0000"]}}}}
    ]
   }]
  }]
 }
]
}
